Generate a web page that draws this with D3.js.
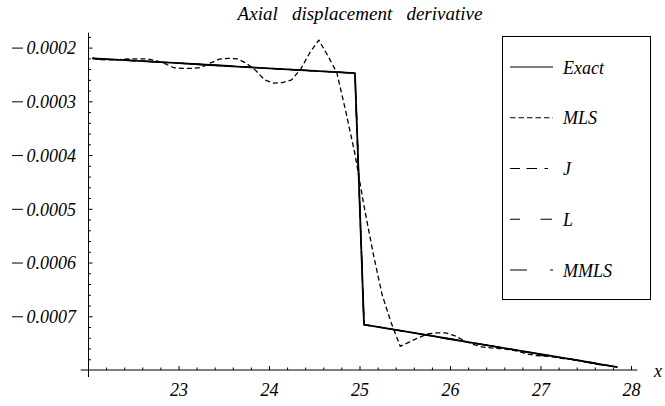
<!DOCTYPE html>
<html>
<head>
<meta charset="utf-8">
<script src="https://cdn.jsdelivr.net/npm/d3@7/dist/d3.min.js"></script>
<style>
  html, body { margin: 0; padding: 0; background: #fff; }
  svg { display: block; }
</style>
</head>
<body>
<svg id="chart" width="665" height="406"></svg>
<script>
// Node positions along the bar (x) where each solution is sampled
const xNodes = [
  22.05, 22.15, 22.25, 22.35, 22.45, 22.55, 22.65, 22.75, 22.85, 22.95,
  23.05, 23.15, 23.25, 23.35, 23.45, 23.55, 23.65, 23.75, 23.85, 23.95,
  24.05, 24.15, 24.25, 24.35, 24.45, 24.55, 24.65, 24.75, 24.85, 24.95,
  25.05, 25.15, 25.25, 25.35, 25.45, 25.55, 25.65, 25.75, 25.85, 25.95,
  26.05, 26.15, 26.25, 26.35, 26.45, 26.55, 26.65, 26.75, 26.85, 26.95,
  27.05, 27.15, 27.25, 27.35, 27.45, 27.55, 27.65, 27.75, 27.85
];

// Axial displacement derivative, one array per method
const exact = [
  -0.00022000, -0.00022095, -0.00022190, -0.00022286, -0.00022381, -0.00022476, -0.00022571, -0.00022666, -0.00022762, -0.00022857,
  -0.00022952, -0.00023047, -0.00023142, -0.00023238, -0.00023333, -0.00023428, -0.00023523, -0.00023618, -0.00023714, -0.00023809,
  -0.00023904, -0.00023999, -0.00024094, -0.00024190, -0.00024285, -0.00024380, -0.00024475, -0.00024570, -0.00024666, -0.00024761,
  -0.00071550, -0.00071832, -0.00072114, -0.00072396, -0.00072679, -0.00072961, -0.00073243, -0.00073525, -0.00073807, -0.00074089,
  -0.00074371, -0.00074654, -0.00074936, -0.00075218, -0.00075500, -0.00075782, -0.00076064, -0.00076346, -0.00076629, -0.00076911,
  -0.00077193, -0.00077475, -0.00077757, -0.00078039, -0.00078321, -0.00078604, -0.00078886, -0.00079168, -0.00079450
];

const mls = [
  -0.00022000, -0.00022250, -0.00022300, -0.00022220, -0.00022120, -0.00022080, -0.00022120, -0.00022400, -0.00023000, -0.00023750,
  -0.00023850, -0.00023850, -0.00023700, -0.00022900, -0.00022150, -0.00022000, -0.00022100, -0.00022900, -0.00024200, -0.00026000,
  -0.00026600, -0.00026500, -0.00026000, -0.00024000, -0.00021000, -0.00018600, -0.00021500, -0.00024700, -0.00032000, -0.00039800,
  -0.00049500, -0.00058200, -0.00066000, -0.00071200, -0.00075600, -0.00074800, -0.00074000, -0.00073300, -0.00073100, -0.00073100,
  -0.00073600, -0.00074500, -0.00075200, -0.00075700, -0.00075900, -0.00076000, -0.00076200, -0.00076500, -0.00077000, -0.00077300,
  -0.00077400, -0.00077600, -0.00077900, -0.00078000, -0.00078300, -0.00078650, -0.00078900, -0.00079150, -0.00079450
];

const jSol = [
  -0.00022010, -0.00022120, -0.00022200, -0.00022280, -0.00022370, -0.00022470, -0.00022570, -0.00022670, -0.00022770, -0.00022860,
  -0.00022950, -0.00023050, -0.00023140, -0.00023240, -0.00023330, -0.00023430, -0.00023520, -0.00023620, -0.00023710, -0.00023810,
  -0.00023900, -0.00024000, -0.00024090, -0.00024190, -0.00024280, -0.00024380, -0.00024470, -0.00024570, -0.00024660, -0.00024740,
  -0.00071600, -0.00071850, -0.00072120, -0.00072400, -0.00072680, -0.00072960, -0.00073240, -0.00073520, -0.00073800, -0.00074090,
  -0.00074370, -0.00074650, -0.00074940, -0.00075220, -0.00075500, -0.00075780, -0.00076080, -0.00076380, -0.00076650, -0.00076950,
  -0.00077250, -0.00077500, -0.00077780, -0.00078050, -0.00078330, -0.00078600, -0.00078880, -0.00079170, -0.00079450
];

const lSol = [
  -0.00022000, -0.00022100, -0.00022190, -0.00022290, -0.00022380, -0.00022480, -0.00022570, -0.00022670, -0.00022760, -0.00022860,
  -0.00022950, -0.00023050, -0.00023140, -0.00023240, -0.00023330, -0.00023430, -0.00023520, -0.00023620, -0.00023710, -0.00023810,
  -0.00023900, -0.00024000, -0.00024090, -0.00024190, -0.00024280, -0.00024380, -0.00024470, -0.00024570, -0.00024670, -0.00024760,
  -0.00071550, -0.00071830, -0.00072110, -0.00072400, -0.00072680, -0.00072960, -0.00073240, -0.00073530, -0.00073810, -0.00074090,
  -0.00074370, -0.00074650, -0.00074940, -0.00075220, -0.00075500, -0.00075780, -0.00076060, -0.00076350, -0.00076800, -0.00077150,
  -0.00077350, -0.00077480, -0.00077760, -0.00078040, -0.00078320, -0.00078700, -0.00078980, -0.00079170, -0.00079450
];

const mmls = [
  -0.00022000, -0.00022095, -0.00022190, -0.00022286, -0.00022381, -0.00022476, -0.00022571, -0.00022666, -0.00022762, -0.00022857,
  -0.00022952, -0.00023047, -0.00023142, -0.00023238, -0.00023333, -0.00023428, -0.00023523, -0.00023618, -0.00023714, -0.00023809,
  -0.00023904, -0.00023999, -0.00024094, -0.00024190, -0.00024285, -0.00024380, -0.00024475, -0.00024570, -0.00024666, -0.00024761,
  -0.00071560, -0.00071840, -0.00072120, -0.00072400, -0.00072680, -0.00072960, -0.00073240, -0.00073520, -0.00073850, -0.00074100,
  -0.00074380, -0.00074660, -0.00074940, -0.00075220, -0.00075500, -0.00075780, -0.00076060, -0.00076340, -0.00076700, -0.00076960,
  -0.00077200, -0.00077470, -0.00077750, -0.00078040, -0.00078320, -0.00078650, -0.00078920, -0.00079170, -0.00079450
];

const seriesNames = ["Exact", "MLS", "J", "L", "MMLS"];

// Tick values and labels
const xMajor = [23, 24, 25, 26, 27, 28];
const xMajorLabels = ["23", "24", "25", "26", "27", "28"];
const xMinor = [22.2, 22.4, 22.6, 22.8, 23.2, 23.4, 23.6, 23.8, 24.2, 24.4, 24.6, 24.8,
                25.2, 25.4, 25.6, 25.8, 26.2, 26.4, 26.6, 26.8, 27.2, 27.4, 27.6, 27.8];
const yMajor = [-0.0002, -0.0003, -0.0004, -0.0005, -0.0006, -0.0007];
const yMajorLabels = ["0.0002", "0.0003", "0.0004", "0.0005", "0.0006", "0.0007"];
const yMinor = [-0.00018, -0.00022, -0.00024, -0.00026, -0.00028, -0.00032, -0.00034, -0.00036, -0.00038,
                -0.00042, -0.00044, -0.00046, -0.00048, -0.00052, -0.00054, -0.00056, -0.00058,
                -0.00062, -0.00064, -0.00066, -0.00068, -0.00072, -0.00074, -0.00076, -0.00078];

const FONT = '"Liberation Serif", "Times New Roman", serif';

function styleText(sel, size) {
  return sel.style("font-family", FONT).style("font-style", "italic")
            .style("font-size", (size || 18) + "px").style("fill", "#000");
}

const svg = d3.select("#chart");

// Scales: axes cross at (22, -0.0008)
const x = d3.scaleLinear().domain([22, 28]).range([88, 631]);
const y = d3.scaleLinear().domain([-0.0008, -0.0002]).range([370, 47.6]);

// Title
styleText(svg.append("text")
  .attr("x", 360).attr("y", 20)
  .attr("text-anchor", "middle")
  .style("white-space", "pre")
  .text("Axial   displacement   derivative"), 19);

// Axis lines (extend slightly beyond the plotted range)
const axes = svg.append("g");
axes.append("line")
  .attr("x1", x(21.92)).attr("x2", x(28.07))
  .attr("y1", y(-0.0008)).attr("y2", y(-0.0008))
  .attr("stroke", "#000").attr("stroke-width", 1);
axes.append("line")
  .attr("x1", x(22) + 0.5).attr("x2", x(22) + 0.5)
  .attr("y1", y(-0.000172)).attr("y2", y(-0.000813))
  .attr("stroke", "#000").attr("stroke-width", 1);

// x axis ticks (drawn upward into the plot) with labels below
const xAxisMajor = d3.axisBottom(x)
  .tickValues(xMajor)
  .tickFormat((d, i) => xMajorLabels[i])
  .tickSize(-4).tickSizeOuter(0).tickPadding(13);
const gx = svg.append("g").attr("transform", `translate(0,${y(-0.0008)})`).call(xAxisMajor);
gx.select(".domain").remove();
gx.attr("font-family", null).attr("font-size", null);
styleText(gx.selectAll(".tick text"));
gx.selectAll(".tick line").attr("stroke", "#000");

const xAxisMinor = d3.axisBottom(x).tickValues(xMinor).tickFormat("").tickSize(-2.5).tickSizeOuter(0);
const gxm = svg.append("g").attr("transform", `translate(0,${y(-0.0008)})`).call(xAxisMinor);
gxm.select(".domain").remove();
gxm.selectAll(".tick line").attr("stroke", "#000");

// y axis ticks (drawn to the right) with labels on the left, minus sign set apart
const yAxisMajor = d3.axisLeft(y)
  .tickValues(yMajor)
  .tickFormat("")
  .tickSize(-4).tickSizeOuter(0);
const gy = svg.append("g").attr("transform", `translate(${x(22) + 0.5},0)`).call(yAxisMajor);
gy.select(".domain").remove();
gy.attr("font-family", null).attr("font-size", null);
gy.selectAll(".tick line").attr("stroke", "#000");
gy.selectAll(".tick text").remove();
gy.selectAll(".tick").each(function (d, i) {
  const t = d3.select(this);
  const label = styleText(t.append("text").attr("x", -12.5).attr("dy", "0.35em").attr("text-anchor", "end"))
    .text(yMajorLabels[i]);
  const bb = label.node().getBBox();
  t.append("line")
    .attr("x1", bb.x - 14.5).attr("x2", bb.x - 3.5)
    .attr("y1", 0).attr("y2", 0)
    .attr("stroke", "#000").attr("stroke-width", 1);
});

const yAxisMinor = d3.axisLeft(y).tickValues(yMinor).tickFormat("").tickSize(-2.5).tickSizeOuter(0);
const gym = svg.append("g").attr("transform", `translate(${x(22) + 0.5},0)`).call(yAxisMinor);
gym.select(".domain").remove();
gym.selectAll(".tick line").attr("stroke", "#000");

// x axis name
styleText(svg.append("text")
  .attr("x", 658).attr("y", 377)
  .attr("text-anchor", "middle")
  .text("x"));

// Curves
const line = d3.line().x((d, i) => x(xNodes[i])).y(d => y(d));
const styles = [
  { name: "Exact", data: exact, dash: null, width: 1.8, legendDash: null },
  { name: "MLS", data: mls, dash: "5,3", width: 1.3, legendDash: "5.5,3" },
  { name: "J", data: jSol, dash: "10,6.5", width: 1.3, legendDash: "10,6.5,10.5,7.5,3.5,20" },
  { name: "L", data: lSol, dash: "10,20", width: 1.3, legendDash: "10,20.5,11.5" },
  { name: "MMLS", data: mmls, dash: "17,23,3,6", width: 1.3, legendDash: "17,23,3" }
];

const plot = svg.append("g");
// approximations first, exact over them, oscillating MLS on top
[styles[4], styles[3], styles[2], styles[0], styles[1]].forEach(s => {
  plot.append("path")
    .datum(s.data)
    .attr("d", line)
    .attr("fill", "none")
    .attr("stroke", "#000")
    .attr("stroke-width", s.width)
    .attr("stroke-linejoin", "round")
    .attr("stroke-dasharray", s.dash);
});

// Legend
const legend = svg.append("g");
legend.append("rect")
  .attr("x", 502.5).attr("y", 36.5)
  .attr("width", 148).attr("height", 263)
  .attr("fill", "#fff").attr("stroke", "#000").attr("stroke-width", 1);

const legendY = d3.scalePoint().domain(seriesNames).range([67, 270]);
styles.forEach(s => {
  const ly = legendY(s.name);
  legend.append("line")
    .attr("x1", 510).attr("x2", 553)
    .attr("y1", ly).attr("y2", ly)
    .attr("stroke", "#000").attr("stroke-width", 1.2)
    .attr("stroke-dasharray", s.legendDash);
  styleText(legend.append("text")
    .attr("x", 563).attr("y", ly + 6.5)
    .text(s.name));
});
</script>
</body>
</html>
